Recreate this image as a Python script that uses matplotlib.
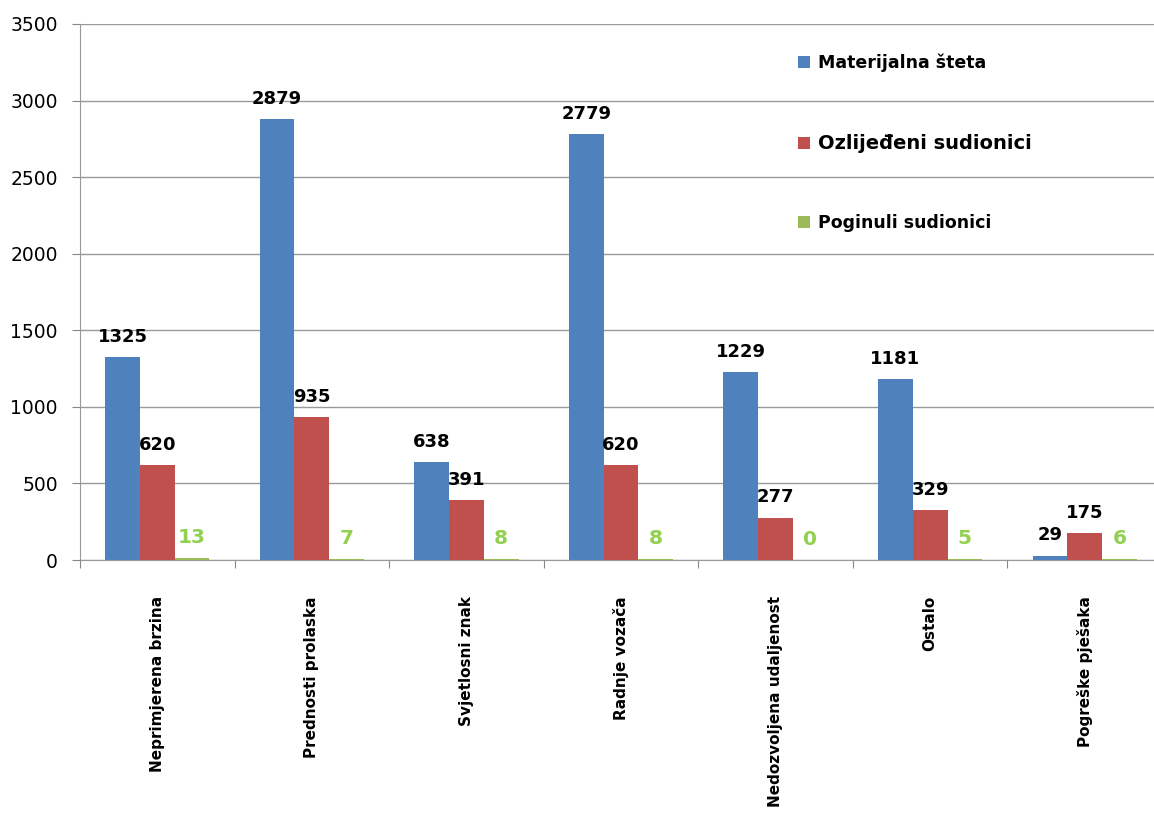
import matplotlib.pyplot as plt
import numpy as np

# Podaci
kategorije = ["Neprimjerena brzina", "Prednosti prolaska", "Svjetlosni znak",
              "Radnje vozača", "Nedozvoljena udaljenost", "Ostalo", "Pogreške pješaka"]
materijalna = [1325, 2879, 638, 2779, 1229, 1181, 29]
ozlijedeni = [620, 935, 391, 620, 277, 329, 175]
poginuli = [13, 7, 8, 8, 0, 5, 6]
serije = ["Materijalna šteta", "Ozlijeđeni sudionici", "Poginuli sudionici"]
boje = ["#4F81BD", "#C0504D", "#9BBB59"]
boje_oznaka = ["black", "black", "#92D050"]
y_ticks = [0, 500, 1000, 1500, 2000, 2500, 3000, 3500]

plt.rcParams['font.family'] = ['DejaVu Sans']

fig = plt.figure(figsize=(11.54, 8.14), dpi=100)
ax = fig.add_axes([80 / 1154, 1 - 560 / 814, (1162 - 80) / 1154, (560 - 24) / 814])

x = np.arange(len(kategorije))
w = 0.225
podaci = [materijalna, ozlijedeni, poginuli]
for i, (vals, c, lc, naziv) in enumerate(zip(podaci, boje, boje_oznaka, serije)):
    pos = x + (i - 1) * w
    ax.bar(pos, vals, width=w, color=c, label=naziv, zorder=3)
    for px, v in zip(pos, vals):
        fs = 14.5 if i == 2 else 13
        ax.annotate(str(v), (px, v), xytext=(0, 8), textcoords="offset points",
                    ha="center", va="bottom", fontsize=fs, fontweight="bold", color=lc)

ax.set_xlim(-0.5, 6.5)
ax.set_ylim(0, 3500)
ax.set_yticks(y_ticks)
ax.tick_params(axis="y", labelsize=13.5, length=6, color="#888888", pad=10)
ax.yaxis.grid(True, color="#999999", linewidth=1, zorder=0)

ax.set_xticks(np.arange(-0.5, 7, 1))
ax.set_xticklabels([])
ax.set_xticks(x, minor=True)
ax.set_xticklabels(kategorije, minor=True, rotation=90, fontsize=11, fontweight="bold",
                   va="top", ha="center")
ax.tick_params(axis="x", which="major", length=6, color="#888888")
ax.tick_params(axis="x", which="minor", length=0, pad=26)

for s in ["top", "right"]:
    ax.spines[s].set_visible(False)
for s in ["left", "bottom"]:
    ax.spines[s].set_color("#999999")

leg = fig.legend(loc="upper left", bbox_to_anchor=(782 / 1154, 1 - 38 / 814),
                 frameon=False, prop={"size": 12.5, "weight": "bold"},
                 handlelength=0.7, handleheight=0.7, handletextpad=0.45, labelspacing=3.55)
leg.get_texts()[1].set_fontsize(14)

plt.savefig("out.png", dpi=100)
